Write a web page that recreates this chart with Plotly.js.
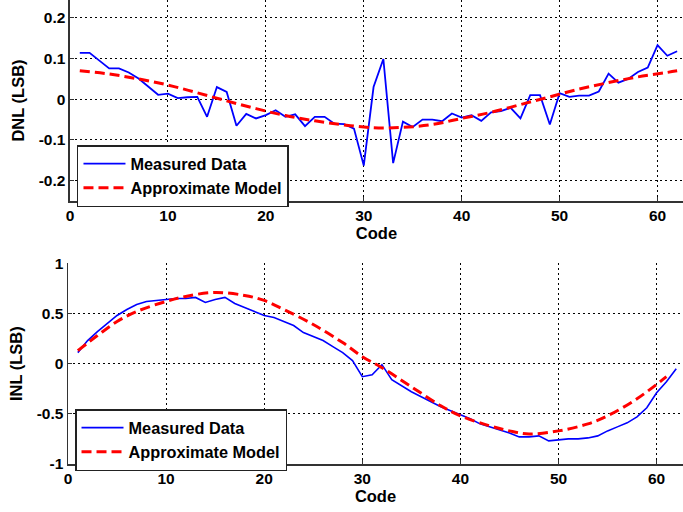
<!DOCTYPE html>
<html>
<head>
<meta charset="utf-8">
<script src="https://cdn.plot.ly/plotly-3.0.1.min.js"></script>
<style>html,body{margin:0;padding:0;background:#fff;}#chart{width:683px;height:512px;}</style>
</head>
<body>
<div id="chart"></div>
<script>
// ---------- data ----------
var codes = [1,2,3,4,5,6,7,8,9,10,11,12,13,14,15,16,17,18,19,20,21,22,23,24,25,26,27,28,29,30,31,
             32,33,34,35,36,37,38,39,40,41,42,43,44,45,46,47,48,49,50,51,52,53,54,55,56,57,58,59,60,61,62];
var dnlMeasured = [0.114,0.114,0.095,0.076,0.076,0.066,0.051,0.031,0.011,0.014,0.003,0.005,0.006,-0.043,0.030,0.018,
                   -0.065,-0.036,-0.047,-0.039,-0.027,-0.043,-0.037,-0.066,-0.043,-0.043,-0.060,-0.061,-0.072,-0.163,0.030,
                   0.099,-0.157,-0.055,-0.068,-0.050,-0.050,-0.054,-0.035,-0.045,-0.039,-0.053,-0.032,-0.029,-0.021,-0.047,
                   0.010,0.010,-0.062,0.015,0.006,0.009,0.009,0.019,0.063,0.041,0.050,0.067,0.078,0.133,0.107,0.118];
var dnlModelCodes = [1,4,7,10,13,16,19,22,25,28,31,34,37,40,43,46,49,52,55,58,61,62];
var dnlModel = [0.070,0.062,0.050,0.035,0.016,-0.004,-0.023,-0.040,-0.053,-0.063,-0.070,-0.069,-0.062,-0.047,-0.032,-0.013,
                0.006,0.025,0.041,0.055,0.066,0.070];
var inlMeasured = [0.11,0.23,0.32,0.40,0.48,0.54,0.59,0.62,0.63,0.64,0.65,0.65,0.66,0.61,0.64,0.66,0.60,0.56,0.52,0.48,
                   0.46,0.42,0.38,0.31,0.27,0.23,0.17,0.11,0.03,-0.13,-0.11,-0.01,-0.16,-0.22,-0.28,-0.33,-0.38,-0.43,
                   -0.47,-0.51,-0.55,-0.60,-0.63,-0.66,-0.69,-0.73,-0.73,-0.72,-0.77,-0.76,-0.75,-0.75,-0.74,-0.72,
                   -0.67,-0.63,-0.59,-0.53,-0.44,-0.29,-0.18,-0.05];
var inlModelCodes = [1,3,5,7,10,12,15,18,20,22,25,28,30,32,35,38,40,43,45,47,50,53,55,58,61];
var inlModel = [0.13,0.28,0.42,0.52,0.62,0.67,0.71,0.68,0.63,0.54,0.39,0.21,0.07,-0.04,-0.23,-0.42,-0.52,-0.62,-0.67,-0.70,
                -0.67,-0.60,-0.52,-0.35,-0.13];
var xTicks = [0,10,20,30,40,50,60];
var dnlTicks = [-0.2,-0.1,0,0.1,0.2];
var dnlTickText = ['-0.2','-0.1','0','0.1','0.2'];
var inlTicks = [-1,-0.5,0,0.5,1];
var inlTickText = ['-1','-0.5','0','0.5','1'];
var seriesNames = ['Measured Data','Approximate Model'];

// ---------- styling ----------
var FONT = 'Liberation Sans, Arial, sans-serif';
var tickFont = {family: FONT, size: 15.5, color: '#000', weight: 'bold'};
var titleFont = {family: FONT, size: 16.5, color: '#000', weight: 'bold'};
var blue = '#0000FF', red = '#FF0000';

var traces = [
  {x: codes, y: dnlMeasured, type: 'scatter', mode: 'lines', name: seriesNames[0],
   line: {color: blue, width: 1.8}, xaxis: 'x', yaxis: 'y', legend: 'legend'},
  {x: dnlModelCodes, y: dnlModel, type: 'scatter', mode: 'lines', name: seriesNames[1],
   line: {color: red, width: 3, dash: '10px,5px', shape: 'spline'}, xaxis: 'x', yaxis: 'y', legend: 'legend'},
  {x: codes, y: inlMeasured, type: 'scatter', mode: 'lines', name: seriesNames[0],
   line: {color: blue, width: 1.6}, xaxis: 'x2', yaxis: 'y2', legend: 'legend2'},
  {x: inlModelCodes, y: inlModel, type: 'scatter', mode: 'lines', name: seriesNames[1],
   line: {color: red, width: 3, dash: '10px,5px', shape: 'spline'}, xaxis: 'x2', yaxis: 'y2', legend: 'legend2'}
];

function xAxis(domain, range, anchor) {
  return {domain: domain, range: range, anchor: anchor, tickvals: xTicks, ticktext: xTicks.map(String),
    tickfont: tickFont, showgrid: true, gridcolor: '#000', griddash: '2px,3px', gridwidth: 1, zeroline: false,
    showline: true, linecolor: '#333', linewidth: 1.5, ticks: 'inside', ticklen: 4, tickcolor: '#333',
    title: {text: 'Code', font: titleFont, standoff: 4}, automargin: false, fixedrange: true};
}
function yAxis(domain, range, anchor, vals, text, title) {
  return {domain: domain, range: range, anchor: anchor, tickvals: vals, ticktext: text,
    tickfont: tickFont, showgrid: true, gridcolor: '#000', griddash: '2px,3px', gridwidth: 1, zeroline: false,
    showline: true, linecolor: '#333', linewidth: 1.5, ticks: 'inside', ticklen: 4, tickcolor: '#333',
    title: {text: title, font: titleFont, standoff: 10}, automargin: false, fixedrange: true};
}

var legendBase = {bgcolor: '#fff', bordercolor: '#222', borderwidth: 1.5, xanchor: 'left', yanchor: 'top',
  font: {family: FONT, size: 16.3, color: '#000', weight: 'bold'}, itemwidth: 42, tracegroupgap: 0};

var layout = {
  width: 683, height: 512,
  margin: {l: 68, r: 0, t: 0, b: 48},
  paper_bgcolor: '#fff', plot_bgcolor: '#fff',
  showlegend: true,
  xaxis: xAxis([0.00325, 1], [0, 62.6], 'y'),
  yaxis: yAxis([0.5668, 1], [-0.25, 0.244], 'x', dnlTicks, dnlTickText, 'DNL (LSB)'),
  xaxis2: xAxis([0, 1], [0, 62.69], 'y2'),
  yaxis2: yAxis([0, 0.4325], [-1, 1], 'x2', inlTicks, inlTickText, 'INL (LSB)'),
  legend: Object.assign({}, legendBase, {x: 0.0146, y: 0.6875}),
  legend2: Object.assign({}, legendBase, {x: 0.0114, y: 0.1185})
};

Plotly.newPlot('chart', traces, layout, {staticPlot: true, displayModeBar: false});
</script>
</body>
</html>
